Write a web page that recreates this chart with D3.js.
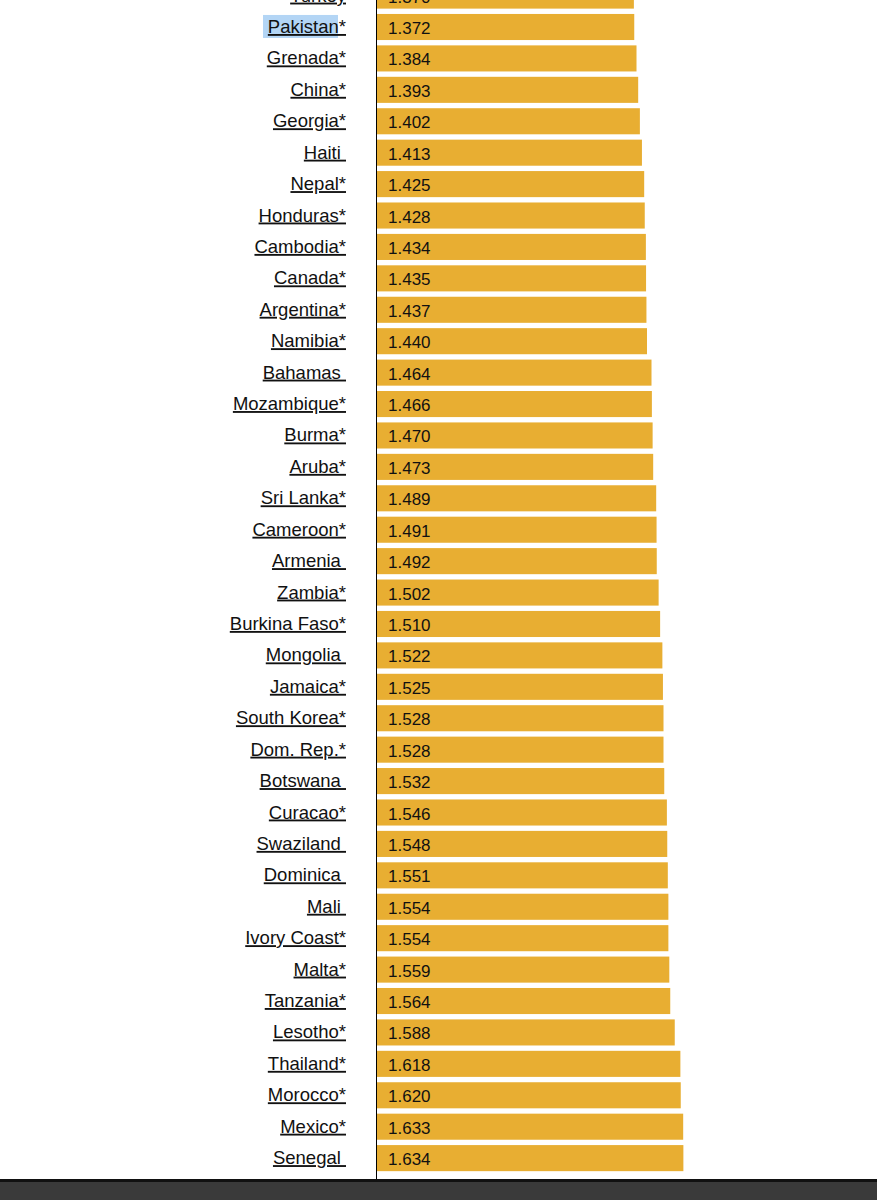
<!DOCTYPE html>
<html><head><meta charset="utf-8">
<script src="https://cdn.jsdelivr.net/npm/d3@7"></script>
<style>body{margin:0;background:#fff}svg{display:block}</style>
</head><body><svg id="chart" width="877" height="1200"></svg>
<script>
var countries = ["Turkey","Pakistan*","Grenada*","China*","Georgia*","Haiti ","Nepal*","Honduras*","Cambodia*","Canada*","Argentina*","Namibia*","Bahamas ","Mozambique*","Burma*","Aruba*","Sri Lanka*","Cameroon*","Armenia ","Zambia*","Burkina Faso*","Mongolia ","Jamaica*","South Korea*","Dom. Rep.*","Botswana ","Curacao*","Swaziland ","Dominica ","Mali ","Ivory Coast*","Malta*","Tanzania*","Lesotho*","Thailand*","Morocco*","Mexico*","Senegal "];
var values = [1.370,1.372,1.384,1.393,1.402,1.413,1.425,1.428,1.434,1.435,1.437,1.440,1.464,1.466,1.470,1.473,1.489,1.491,1.492,1.502,1.510,1.522,1.525,1.528,1.528,1.532,1.546,1.548,1.551,1.554,1.554,1.559,1.564,1.588,1.618,1.620,1.633,1.634];

var svg = d3.select("#chart");
var x0 = 377, rowH = 31.42, firstY = 27 - rowH;

var x = d3.scaleLinear().domain([0, 2]).range([x0, x0 + 375]);
var y = d3.scaleBand().domain(countries)
  .range([firstY - rowH / 2, firstY - rowH / 2 + rowH * countries.length])
  .paddingInner(0.17).paddingOuter(0.085);

// highlight behind Pakistan
var pk = y("Pakistan*");
svg.append("rect").attr("x", 263).attr("y", pk + 1).attr("width", 75).attr("height", 23).attr("fill", "#b3d5f5");

var rows = svg.append("g").selectAll("g").data(countries).enter().append("g");

rows.append("rect")
  .attr("x", x(0))
  .attr("y", function(d) { return y(d); })
  .attr("width", function(d, i) { return x(values[i]) - x(0); })
  .attr("height", y.bandwidth())
  .attr("fill", "#e8ae32");

rows.append("text")
  .attr("x", 388)
  .attr("y", function(d) { return y(d) + y.bandwidth() / 2 + 7; })
  .attr("font-family", "Liberation Sans, Arial, sans-serif")
  .attr("font-size", 17)
  .attr("fill", "#111")
  .text(function(d, i) { return values[i].toFixed(3); });

rows.append("text")
  .attr("x", 346)
  .attr("y", function(d) { return y(d) + y.bandwidth() / 2 + 6; })
  .attr("text-anchor", "end")
  .attr("font-family", "Liberation Sans, Arial, sans-serif")
  .attr("font-size", 18.5)
  .attr("fill", "#111")
  .style("white-space", "pre")
  .attr("text-decoration", "underline")
  .text(function(d) { return d; });

svg.append("line").attr("x1", 376.5).attr("x2", 376.5).attr("y1", 0).attr("y2", 1180)
  .attr("stroke", "#000").attr("stroke-width", 1);

svg.append("rect").attr("x", 0).attr("y", 1179).attr("width", 877).attr("height", 21).attr("fill", "#3a3a3a");
svg.append("rect").attr("x", 0).attr("y", 1179).attr("width", 877).attr("height", 3).attr("fill", "#111");
</script></body></html>
